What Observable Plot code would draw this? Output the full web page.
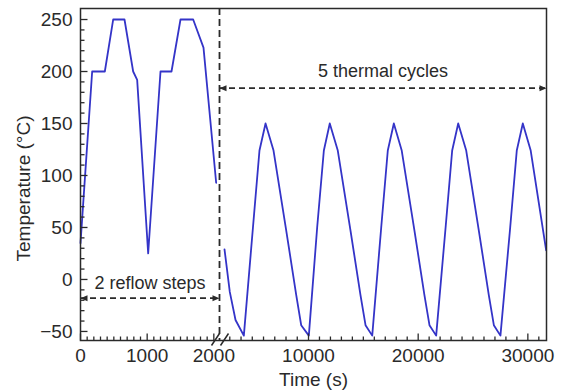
<!DOCTYPE html>
<html><head><meta charset="utf-8">
<script src="https://cdn.jsdelivr.net/npm/d3@7"></script>
<script src="https://cdn.jsdelivr.net/npm/@observablehq/plot@0.6"></script>
<style>html,body{margin:0;padding:0;background:#fff;} #chart{width:562px;height:392px;}</style>
</head><body><div id="chart"></div>
<script>
// Reflow profile (left part of the broken axis)
const reflowTime = [0, 175, 365, 490, 660, 790, 850, 1015, 1200, 1365, 1500, 1690, 1845, 2035];
const reflowTemp = [35, 200, 200, 250, 250, 200, 192, 25, 200, 200, 250, 250, 223, 93];
// Thermal cycles (right part of the broken axis)
const cycleTime = [2530, 3000, 3510, 4250,
  5060, 5640, 6180, 6890, 8020, 8910, 9350, 10030,
  10790, 11400, 11940, 12670, 13830, 14740, 15200, 15810,
  16630, 17230, 17780, 18500, 19660, 20570, 21030, 21640,
  22500, 23100, 23650, 24380, 25530, 26440, 26900, 27500,
  28390, 28990, 29540, 30260, 31670];
const cycleTemp = [29, -12, -39, -54,
  50, 124, 150, 124, 47, -15, -44, -54,
  50, 124, 150, 124, 47, -15, -44, -54,
  50, 124, 150, 124, 47, -15, -44, -54,
  50, 124, 150, 124, 47, -15, -44, -54,
  50, 124, 150, 124, 28];

// Axis values
const xDomain = [0, 2085, 10000, 31700];   // broken axis pieces
const xBreak = 2085;
const xMajor = [0, 1000, 2000, 10000, 20000, 30000];
const xMinor = d3.range(100, 2001, 100).filter(d => d !== 1000 && d !== 2000)
  .concat(d3.range(3000, 31001, 1000).filter(d => d % 10000 !== 0));
const yDomain = [-58.7, 260.6];
const yMajor = [-50, 0, 50, 100, 150, 200, 250];
const yMinor = d3.range(-50, 251, 10).filter(d => d % 50 !== 0);

// Annotations
const arrowLabels = ["2 reflow steps", "5 thermal cycles"];
const arrowY = [-18, 184];
const arrowFrom = [0, 2085];
const arrowTo = [2085, 31700];
const labelX = [1042, 16800];
const labelY = [-4, 200];

const lineData = [
  ...reflowTime.map((t, i) => ({t, v: reflowTemp[i], s: "reflow"})),
  ...cycleTime.map((t, i) => ({t, v: cycleTemp[i], s: "cycle"}))
];
const arrows = arrowLabels.map((label, i) => ({label, y: arrowY[i], x1: arrowFrom[i], x2: arrowTo[i], lx: labelX[i], ly: labelY[i]}));

const ink = "#2a2a2a";
const tickUp = L => ({draw(ctx){ ctx.moveTo(0, 0); ctx.lineTo(0, -L); }});
const tickRight = L => ({draw(ctx){ ctx.moveTo(0, 0); ctx.lineTo(L, 0); }});
const headRight = {draw(ctx){ ctx.moveTo(0, 0); ctx.lineTo(-7, -3); ctx.lineTo(-7, 3); ctx.closePath(); }};
const headLeft = {draw(ctx){ ctx.moveTo(0, 0); ctx.lineTo(7, -3); ctx.lineTo(7, 3); ctx.closePath(); }};
const breakMark = {draw(ctx){ ctx.moveTo(-8, 5); ctx.lineTo(0, -7); ctx.moveTo(1, 5); ctx.lineTo(9, -7); }};

const chart = Plot.plot({
  width: 562,
  height: 392,
  marginTop: 8,
  marginRight: 16,
  marginBottom: 52,
  marginLeft: 80,
  style: {fontFamily: "'Liberation Sans', Arial, sans-serif", fontSize: "19px", color: ink, background: "#fff", overflow: "visible"},
  x: {type: "linear", domain: xDomain, range: [80, 219, 308, 546]},
  y: {domain: yDomain},
  marks: [
    Plot.ruleX([xBreak], {stroke: ink, strokeWidth: 1.8, strokeDasharray: "7,4"}),
    Plot.ruleY(arrows, {y: "y", x1: "x1", x2: "x2", stroke: ink, strokeWidth: 1.8, strokeDasharray: "6,4"}),
    Plot.dot(arrows, {x: "x1", y: "y", symbol: headLeft, fill: ink, stroke: "none"}),
    Plot.dot(arrows, {x: "x2", y: "y", symbol: headRight, fill: ink, stroke: "none"}),
    Plot.text(arrows, {x: "lx", y: "ly", text: "label", fontSize: 18, fill: ink}),
    Plot.line(lineData, {x: "t", y: "v", z: "s", stroke: "#3434c8", strokeWidth: 1.8}),
    Plot.frame({stroke: ink, strokeWidth: 1.5}),
    Plot.dot(yMajor, {y: d => d, frameAnchor: "left", symbol: tickRight(7), fill: "none", stroke: ink, strokeWidth: 1.3}),
    Plot.dot(yMinor, {y: d => d, frameAnchor: "left", symbol: tickRight(4), fill: "none", stroke: ink, strokeWidth: 1.3}),
    Plot.dot(xMajor, {x: d => d, frameAnchor: "bottom", symbol: tickUp(7), fill: "none", stroke: ink, strokeWidth: 1.3}),
    Plot.dot(xMinor, {x: d => d, frameAnchor: "bottom", symbol: tickUp(4), fill: "none", stroke: ink, strokeWidth: 1.3}),
    Plot.dot([xBreak], {x: d => d, frameAnchor: "bottom", symbol: breakMark, fill: "none", stroke: ink, strokeWidth: 1.5}),
    Plot.axisY({ticks: yMajor, tickSize: 0, tickPadding: 8, label: null, fill: ink}),
    Plot.axisX({ticks: xMajor, tickSize: 0, tickPadding: 8, label: null, tickFormat: d => String(d), fill: ink}),
    Plot.text(["Temperature (°C)"], {frameAnchor: "left", textAnchor: "middle", lineAnchor: "middle", dx: -57, dy: 14, rotate: -90, fontSize: 19, fill: ink}),
    Plot.text(["Time (s)"], {frameAnchor: "bottom", textAnchor: "middle", lineAnchor: "middle", dy: 39, fontSize: 19, fill: ink})
  ]
});
document.getElementById("chart").appendChild(chart);
</script>
</body></html>
